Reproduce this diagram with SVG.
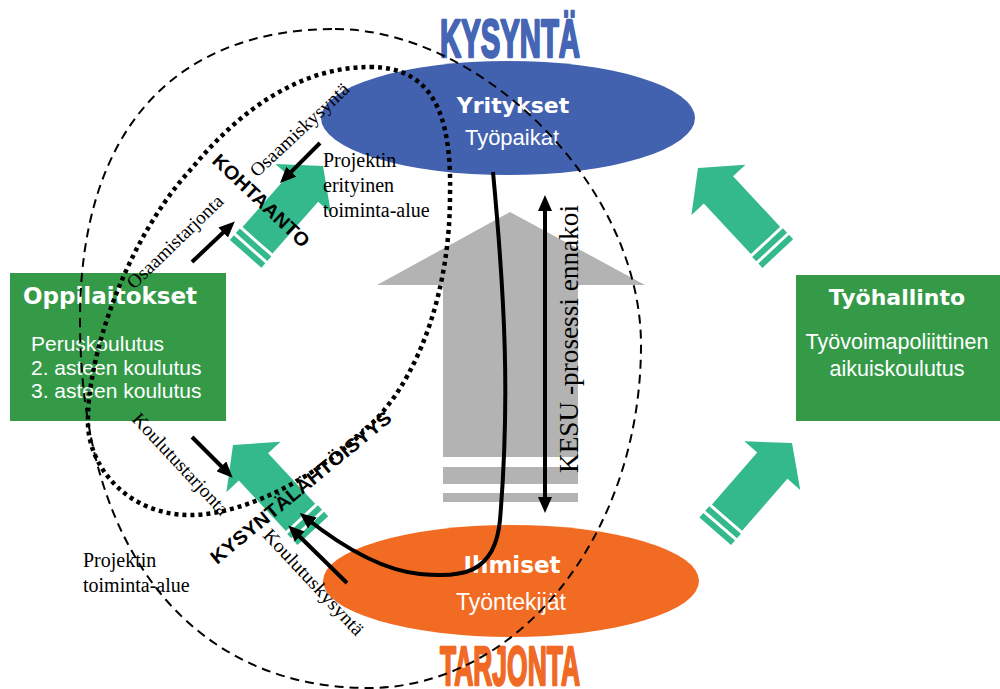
<svg xmlns="http://www.w3.org/2000/svg" xmlns:xlink="http://www.w3.org/1999/xlink" width="1000" height="689" viewBox="0 0 1000 689">
<defs>
<style>
.serif{font-family:"Liberation Serif","Times New Roman",serif;fill:#000;font-size:19px}
.head{font-family:"DejaVu Sans",Verdana,sans-serif;font-weight:bold;fill:#fff}
.body{font-family:"Liberation Sans",Arial,sans-serif;fill:#fff}
.diag{font-family:"Liberation Sans",Arial,sans-serif;font-weight:bold;fill:#000;font-size:19px}
.big{font-family:"Liberation Sans",Arial,sans-serif;font-weight:bold}
.blk{stroke:#000;stroke-width:4;fill:none}
.dash{fill:none;stroke:#000;stroke-width:2;stroke-dasharray:9 6}
.dot{fill:none;stroke:#000;stroke-width:4.5;stroke-dasharray:4 4}
</style>
<g id="teal" fill="#33b98c">
<path d="M0,0 L37,30 L20,30 L20,99 L-20,99 L-20,30 L-37,30 Z"/>
<rect x="-21" y="102" width="42" height="6"/>
<rect x="-21" y="111" width="42" height="6"/>
</g>
<marker id="ah" viewBox="0 0 16 14" refX="8" refY="7" markerWidth="16" markerHeight="14" markerUnits="userSpaceOnUse" orient="auto-start-reverse">
<path d="M0,0 L16,7 L0,14 Z" fill="#000"/>
</marker>
</defs>
<rect width="1000" height="689" fill="#fff"/>

<g id="kesu-arrow">
<polygon points="510,212 645,285 578,285 578,457 443,457 443,285 377,285" fill="#b3b3b3"/>
<rect x="443" y="467" width="135" height="17" fill="#b3b3b3"/>
<rect x="443" y="493" width="135" height="9" fill="#b3b3b3"/>
</g>

<g id="yritykset">
<ellipse cx="508" cy="118" rx="187" ry="57" fill="#4262b0"/>
<text class="head" x="513" y="113" font-size="22" text-anchor="middle">Yritykset</text>
<text class="body" x="512" y="145" font-size="22" text-anchor="middle">Työpaikat</text>
</g>

<g id="ihmiset">
<ellipse cx="511" cy="581" rx="188" ry="56" fill="#f26b22"/>
<text class="head" x="512" y="573" font-size="23" text-anchor="middle">Ihmiset</text>
<text class="body" x="511" y="610" font-size="23" text-anchor="middle">Työntekijät</text>
</g>

<g id="oppilaitokset">
<rect x="10" y="273" width="216" height="148" fill="#359a48"/>
<text class="head" x="23" y="304" font-size="23" textLength="174" lengthAdjust="spacingAndGlyphs">Oppilaitokset</text>
<text class="body" x="31" y="351" font-size="21">Peruskoulutus</text>
<text class="body" x="31" y="375" font-size="21">2. asteen koulutus</text>
<text class="body" x="31" y="398" font-size="21">3. asteen koulutus</text>
</g>

<g id="tyohallinto">
<rect x="796" y="275" width="204" height="146" fill="#359a48"/>
<text class="head" x="897" y="305" font-size="22" text-anchor="middle">Työhallinto</text>
<text class="body" x="897" y="349" font-size="21.5" text-anchor="middle">Työvoimapoliittinen</text>
<text class="body" x="897" y="376" font-size="21.5" text-anchor="middle">aikuiskoulutus</text>
</g>

<g id="flows">
<use xlink:href="#teal" href="#teal" transform="translate(698,168) rotate(-43)"/>
<use xlink:href="#teal" href="#teal" transform="translate(792,443) rotate(41)"/>
<use xlink:href="#teal" href="#teal" transform="translate(323,166) rotate(41.4)"/>
<use xlink:href="#teal" href="#teal" transform="translate(233,445) rotate(-43)"/>
</g>

<g id="titles">
<text class="big" x="440" y="57" font-size="54" fill="#4565b5" stroke="#4565b5" stroke-width="2.5" stroke-linejoin="round" textLength="140" lengthAdjust="spacingAndGlyphs">KYSYNTÄ</text>
<text class="big" x="440" y="685" font-size="56" fill="#f06a25" stroke="#f06a25" stroke-width="2.5" stroke-linejoin="round" textLength="140" lengthAdjust="spacingAndGlyphs">TARJONTA</text>
</g>

<g id="areas">
<path class="dash" d="M335,29 C480,29 641,185 641,345 C641,534 519,688 368,688 C200,688 80,560 80,320 C80,130 175,29 335,29 Z"/>
<path class="dot" d="M370,67 C430,67 452,110 450,195 C450,290 420,370 380,415 C330,470 250,515 190,515 C130,515 90,470 88,425 C86,360 125,240 193,167 C240,110 300,67 370,67 Z"/>
</g>

<g id="connectors">
<path class="blk" d="M493,172 C505,300 510,400 500,520 C495,575 460,578 420,574 C380,570 340,545 306,518" marker-end="url(#ah)"/>
<line class="blk" x1="320" y1="143" x2="285.7" y2="177.3" marker-end="url(#ah)"/>
<line class="blk" x1="192" y1="262" x2="229" y2="227" marker-end="url(#ah)"/>
<line class="blk" x1="192" y1="437" x2="227" y2="472" marker-end="url(#ah)"/>
<line class="blk" x1="347" y1="583" x2="294" y2="531" marker-end="url(#ah)"/>
<line class="blk" x1="545" y1="203" x2="545" y2="505" stroke-width="3" marker-start="url(#ah)" marker-end="url(#ah)"/>
</g>

<g id="labels">
<text class="serif" transform="translate(257,178) rotate(-43)" textLength="128" lengthAdjust="spacingAndGlyphs">Osaamiskysyntä</text>
<text class="serif" transform="translate(134,290) rotate(-44)" textLength="126" lengthAdjust="spacingAndGlyphs">Osaamistarjonta</text>
<text class="diag" transform="translate(211,162) rotate(43.5)" textLength="126" lengthAdjust="spacingAndGlyphs">KOHTAANTO</text>
<text class="diag" font-size="20" transform="translate(217,565) rotate(-39.5)" textLength="228" lengthAdjust="spacingAndGlyphs">KYSYNTÄLÄHTÖISYYS</text>
<text class="serif" transform="translate(131,420) rotate(47)" textLength="132" lengthAdjust="spacingAndGlyphs">Koulutustarjonta</text>
<text class="serif" transform="translate(262,536) rotate(47)" textLength="138" lengthAdjust="spacingAndGlyphs">Koulutuskysyntä</text>
<text class="serif" style="font-size:26.5px" transform="translate(578,473) rotate(-90)" textLength="268" lengthAdjust="spacingAndGlyphs">KESU -prosessi ennakoi</text>
<text class="serif" style="font-size:20px" x="323" y="167">Projektin</text>
<text class="serif" style="font-size:20px" x="323" y="192">erityinen</text>
<text class="serif" style="font-size:20px" x="323" y="217">toiminta-alue</text>
<text class="serif" style="font-size:20px" x="83" y="567">Projektin</text>
<text class="serif" style="font-size:20px" x="83" y="592">toiminta-alue</text>
</g>
</svg>
